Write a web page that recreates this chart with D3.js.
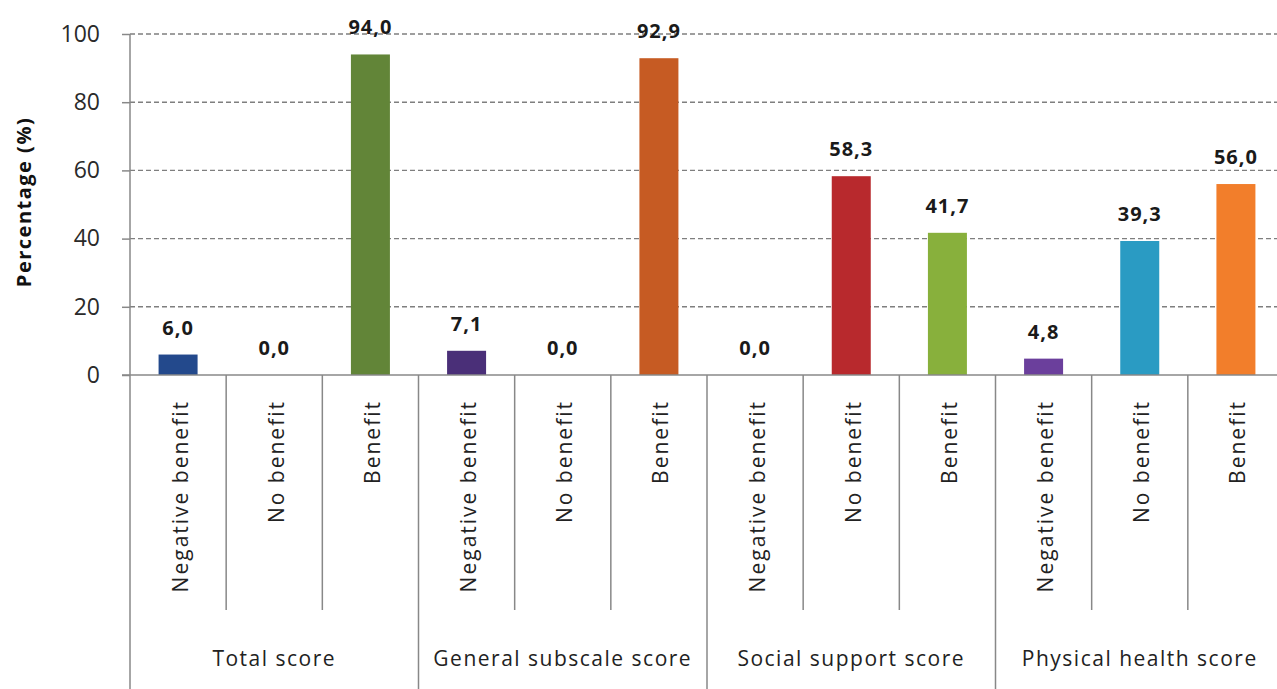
<!DOCTYPE html>
<html>
<head>
<meta charset="utf-8">
<script src="https://cdn.jsdelivr.net/npm/d3@7"></script>
<style>
  body { margin: 0; background: #fff; }
  svg { display: block; }
</style>
</head>
<body>
<svg id="chart" width="1277" height="689"></svg>
<script>
// chart data
var groups = ["Total score", "General subscale score", "Social support score", "Physical health score"];
var subcats = ["Negative benefit", "No benefit", "Benefit"];
var totalScore = [6.0, 0.0, 94.0];
var generalScore = [7.1, 0.0, 92.9];
var socialScore = [0.0, 58.3, 41.7];
var physicalScore = [4.8, 39.3, 56.0];
var barColors = [
  ["#23498c", "#8a8a8a", "#628538"],
  ["#4a2f78", "#8a8a8a", "#c65b23"],
  ["#8a8a8a", "#b8292d", "#88b03c"],
  ["#6b3f9c", "#2a9bc3", "#f27e2b"]
];
var yTicks = [0, 20, 40, 60, 80, 100];

var seriesByGroup = [totalScore, generalScore, socialScore, physicalScore];

var rows = [];
groups.forEach(function(g, gi) {
  subcats.forEach(function(s, si) {
    rows.push({ id: gi + "-" + si, group: g, gi: gi, sub: s, si: si,
                value: seriesByGroup[gi][si], color: barColors[gi][si] });
  });
});

var svg = d3.select("#chart"),
    plotLeft = 130, plotRight = 1284, plotTop = 34, zeroY = 375;

var x = d3.scaleBand()
    .domain(rows.map(function(d) { return d.id; }))
    .range([plotLeft, plotRight])
    .padding(0);

var y = d3.scaleLinear().domain([0, 100]).range([zeroY, plotTop]);

var barW = 39;
var fontFam = "'Open Sans', 'DejaVu Sans', sans-serif";

// dashed gridlines
svg.append("g")
  .selectAll("line")
  .data(yTicks.filter(function(t) { return t > 0; }))
  .enter().append("line")
    .attr("x1", plotLeft).attr("x2", 1277)
    .attr("y1", function(d) { return y(d); })
    .attr("y2", function(d) { return y(d); })
    .attr("stroke", "#7f7f7f")
    .attr("stroke-width", 1.4)
    .attr("stroke-dasharray", "5,3");

// y axis
var yAxis = svg.append("g")
    .attr("transform", "translate(" + plotLeft + ",0)")
    .call(d3.axisLeft(y).tickValues(yTicks).tickSize(8).tickPadding(22).tickFormat(d3.format("d")));
yAxis.select(".domain").remove();
yAxis.selectAll(".tick line").attr("stroke", "#888").attr("stroke-width", 1.5);
yAxis.selectAll(".tick text")
    .attr("fill", "#2a2a2a")
    .style("font-family", fontFam)
    .style("font-size", "23px");

// vertical axis line reaching to the bottom
svg.append("line")
  .attr("x1", plotLeft).attr("x2", plotLeft)
  .attr("y1", plotTop).attr("y2", 689)
  .attr("stroke", "#888").attr("stroke-width", 1.5);

// bars
svg.append("g")
  .selectAll("rect")
  .data(rows)
  .enter().append("rect")
    .attr("x", function(d) { return x(d.id) + x.bandwidth() / 2 - barW / 2; })
    .attr("width", barW)
    .attr("y", function(d) { return y(d.value); })
    .attr("height", function(d) { return zeroY - y(d.value); })
    .attr("fill", function(d) { return d.color; });

// baseline
svg.append("line")
  .attr("x1", plotLeft - 8).attr("x2", 1277)
  .attr("y1", zeroY).attr("y2", zeroY)
  .attr("stroke", "#888").attr("stroke-width", 1.5);

// value labels
svg.append("g")
  .selectAll("text")
  .data(rows)
  .enter().append("text")
    .attr("x", function(d) { return x(d.id) + x.bandwidth() / 2; })
    .attr("y", function(d) { return y(d.value) - 20; })
    .attr("text-anchor", "middle")
    .style("font-family", fontFam)
    .style("font-size", "20px")
    .style("font-weight", "bold")
    .style("letter-spacing", "1px")
    .attr("fill", "#1a1a1a")
    .text(function(d) { return d.value.toFixed(1).replace(".", ","); });

// separators between categories
svg.append("g")
  .selectAll("line")
  .data(rows.filter(function(d) { return d.si > 0 || d.gi > 0; }))
  .enter().append("line")
    .attr("x1", function(d) { return x(d.id); })
    .attr("x2", function(d) { return x(d.id); })
    .attr("y1", zeroY)
    .attr("y2", function(d) { return d.si === 0 ? 689 : 610; })
    .attr("stroke", "#888").attr("stroke-width", 1.5);

// rotated category labels
svg.append("g")
  .selectAll("text")
  .data(rows)
  .enter().append("text")
    .attr("transform", function(d) {
      return "translate(" + (x(d.id) + x.bandwidth() / 2 + 2) + ",400) rotate(-90)";
    })
    .attr("dy", "0.36em")
    .attr("text-anchor", "end")
    .style("font-family", fontFam)
    .style("font-size", "21px")
    .style("letter-spacing", "2px")
    .attr("fill", "#222")
    .text(function(d) { return d.sub; });

// group labels
svg.append("g")
  .selectAll("text")
  .data(groups)
  .enter().append("text")
    .attr("x", function(d, i) {
      var a = x(i + "-0"), b = x(i + "-2") + x.bandwidth();
      return (a + b) / 2;
    })
    .attr("y", 666)
    .attr("text-anchor", "middle")
    .style("font-family", fontFam)
    .style("font-size", "21px")
    .style("letter-spacing", "1.5px")
    .attr("fill", "#222")
    .text(function(d) { return d; });

// y title
svg.append("text")
  .attr("transform", "translate(31,202) rotate(-90)")
  .attr("text-anchor", "middle")
  .style("font-family", fontFam)
  .style("font-size", "20px")
  .style("font-weight", "bold")
  .style("letter-spacing", "1.5px")
  .attr("fill", "#111")
  .text("Percentage (%)");
</script>
</body>
</html>
